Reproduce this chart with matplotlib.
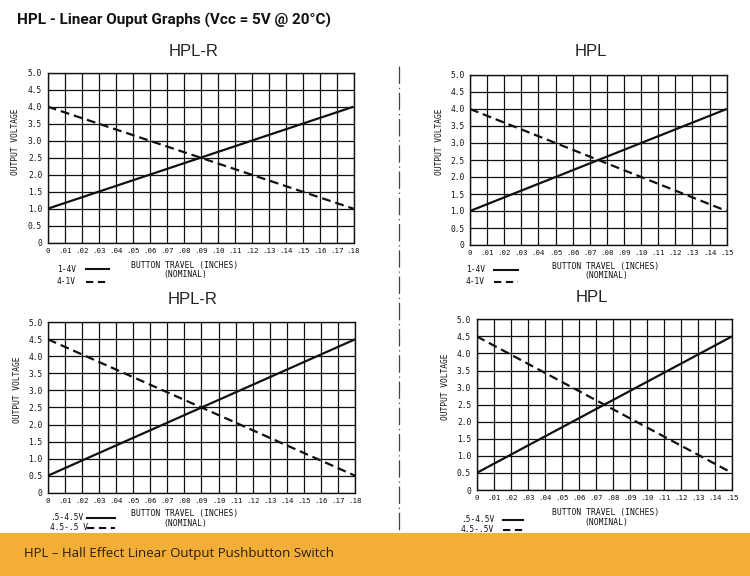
import matplotlib
matplotlib.use("Agg")
import matplotlib.pyplot as plt
from matplotlib.lines import Line2D
from matplotlib.patches import Rectangle

W, H = 750, 576

# data
travel_hplr = [0.0, 0.18]
travel_hpl = [0.0, 0.15]
v_1_4 = [1.0, 4.0]
v_4_1 = [4.0, 1.0]
v_05_45 = [0.5, 4.5]
v_45_05 = [4.5, 0.5]

y_ticks = [0, 0.5, 1.0, 1.5, 2.0, 2.5, 3.0, 3.5, 4.0, 4.5, 5.0]
y_labels = ["0", "0.5", "1.0", "1.5", "2.0", "2.5", "3.0", "3.5", "4.0", "4.5", "5.0"]
x_ticks_r = [0, .01, .02, .03, .04, .05, .06, .07, .08, .09, .10, .11, .12, .13, .14, .15, .16, .17, .18]
x_labels_r = ["0", ".01", ".02", ".03", ".04", ".05", ".06", ".07", ".08", ".09",
              ".10", ".11", ".12", ".13", ".14", ".15", ".16", ".17", ".18"]
x_ticks_s = x_ticks_r[:16]
x_labels_s = x_labels_r[:16]

mono = "DejaVu Sans Mono"
ink = "#111111"


def px_axes(fig, l, r, t, b):
    return fig.add_axes([l / W, 1 - b / H, (r - l) / W, (b - t) / H])


def fx(x):
    return x / W


def fy(y):
    return 1 - y / H


def chart(fig, box, xs, xt, xl, up, down, title, title_xy, ylab_xy, leg):
    ax = px_axes(fig, *box)
    ax.plot(xs, up, color=ink, lw=1.6, solid_capstyle="butt")
    ax.plot(xs, down, color=ink, lw=1.6, dashes=(4, 2.2))
    ax.set_xlim(xs[0], xs[-1])
    ax.set_ylim(0, 5)
    ax.set_xticks(xt)
    ax.set_xticklabels(xl, fontfamily=mono, fontsize=5.4)
    ax.set_yticks(y_ticks)
    ax.set_yticklabels(y_labels, fontfamily=mono, fontsize=5.7)
    ax.tick_params(length=0, colors=ink)
    ax.tick_params(axis="x", pad=3.5)
    ax.tick_params(axis="y", pad=4)
    ax.grid(True, color=ink, lw=0.9)
    for s in ax.spines.values():
        s.set_color(ink)
        s.set_linewidth(1.0)
    fig.text(fx(title_xy[0]), fy(title_xy[1]), title, ha="center", va="center",
             fontsize=12, family="Liberation Sans", color="#222222")
    fig.text(fx(ylab_xy[0]), fy(ylab_xy[1]), "OUTPUT VOLTAGE", rotation=90,
             ha="center", va="center", fontfamily=mono, fontsize=5.7, color=ink)
    (t1, t2, tx0, ty1, ty2, lx0, lx1, bx, by) = leg
    fig.text(fx(tx0), fy(ty1), t1, ha="left", va="center", fontfamily=mono, fontsize=5.7, color=ink)
    fig.text(fx(tx0), fy(ty2), t2, ha="left", va="center", fontfamily=mono, fontsize=5.7, color=ink)
    fig.add_artist(Line2D([fx(lx0), fx(lx1)], [fy(ty1), fy(ty1)], color=ink, lw=1.5,
                          transform=fig.transFigure))
    fig.add_artist(Line2D([fx(lx0), fx(lx1)], [fy(ty2 + 1), fy(ty2 + 1)], color=ink, lw=1.5,
                          dashes=(3.5, 2.2), transform=fig.transFigure))
    fig.text(fx(bx), fy(by), "BUTTON TRAVEL (INCHES)\n(NOMINAL)", ha="center", va="center",
             multialignment="center", linespacing=1.05,
             fontfamily=mono, fontsize=5.8, color=ink)
    return ax


fig = plt.figure(figsize=(7.5, 5.76), dpi=100)
fig.patch.set_facecolor("white")

fig.text(fx(17), fy(20), "HPL - Linear Ouput Graphs (Vcc = 5V @ 20°C)",
         ha="left", va="center", fontsize=11, fontweight="bold",
         family=["Roboto", "DejaVu Sans"], color="#111111")

chart(fig, (47.7, 353.5, 72.7, 242.7), travel_hplr, x_ticks_r, x_labels_r, v_1_4, v_4_1,
      "HPL-R", (194, 52), (16, 142),
      ("1-4V", "4-1V", 57, 269, 281, 86, 109, 185, 270))
chart(fig, (470, 726.7, 75, 245), travel_hpl, x_ticks_s, x_labels_s, v_1_4, v_4_1,
      "HPL", (591, 52), (439, 142),
      ("1-4V", "4-1V", 466, 270, 281, 494, 518, 606, 271))
chart(fig, (48, 355, 322.3, 492.7), travel_hplr, x_ticks_r, x_labels_r, v_05_45, v_45_05,
      "HPL-R", (193, 299), (17, 390),
      (".5-4.5V", "4.5-.5 V", 50, 518, 527, 87, 115, 185, 518.5))
chart(fig, (476.7, 732, 319.3, 490), travel_hpl, x_ticks_s, x_labels_s, v_05_45, v_45_05,
      "HPL", (592, 298), (445, 387),
      (".5-4.5V", "4.5-.5V", 461, 520, 529, 503, 523, 606, 517.5))

# dashed separator between the columns
fig.add_artist(Line2D([fx(399), fx(399)], [fy(66), fy(532)], color="#444444", lw=0.9,
                      dashes=(14, 3, 1, 3), transform=fig.transFigure))

# orange footer banner
fig.add_artist(Rectangle((0, 0), 1, (576 - 533) / H, transform=fig.transFigure,
                         facecolor="#F2AE37", edgecolor="none", zorder=5))
fig.text(fx(24), fy(554), "HPL \u2013 Hall Effect Linear Output Pushbutton Switch",
         ha="left", va="center", fontsize=9.5, family="Open Sans", color="#2a1d08", zorder=6)

fig.savefig("out.png", dpi=100)
